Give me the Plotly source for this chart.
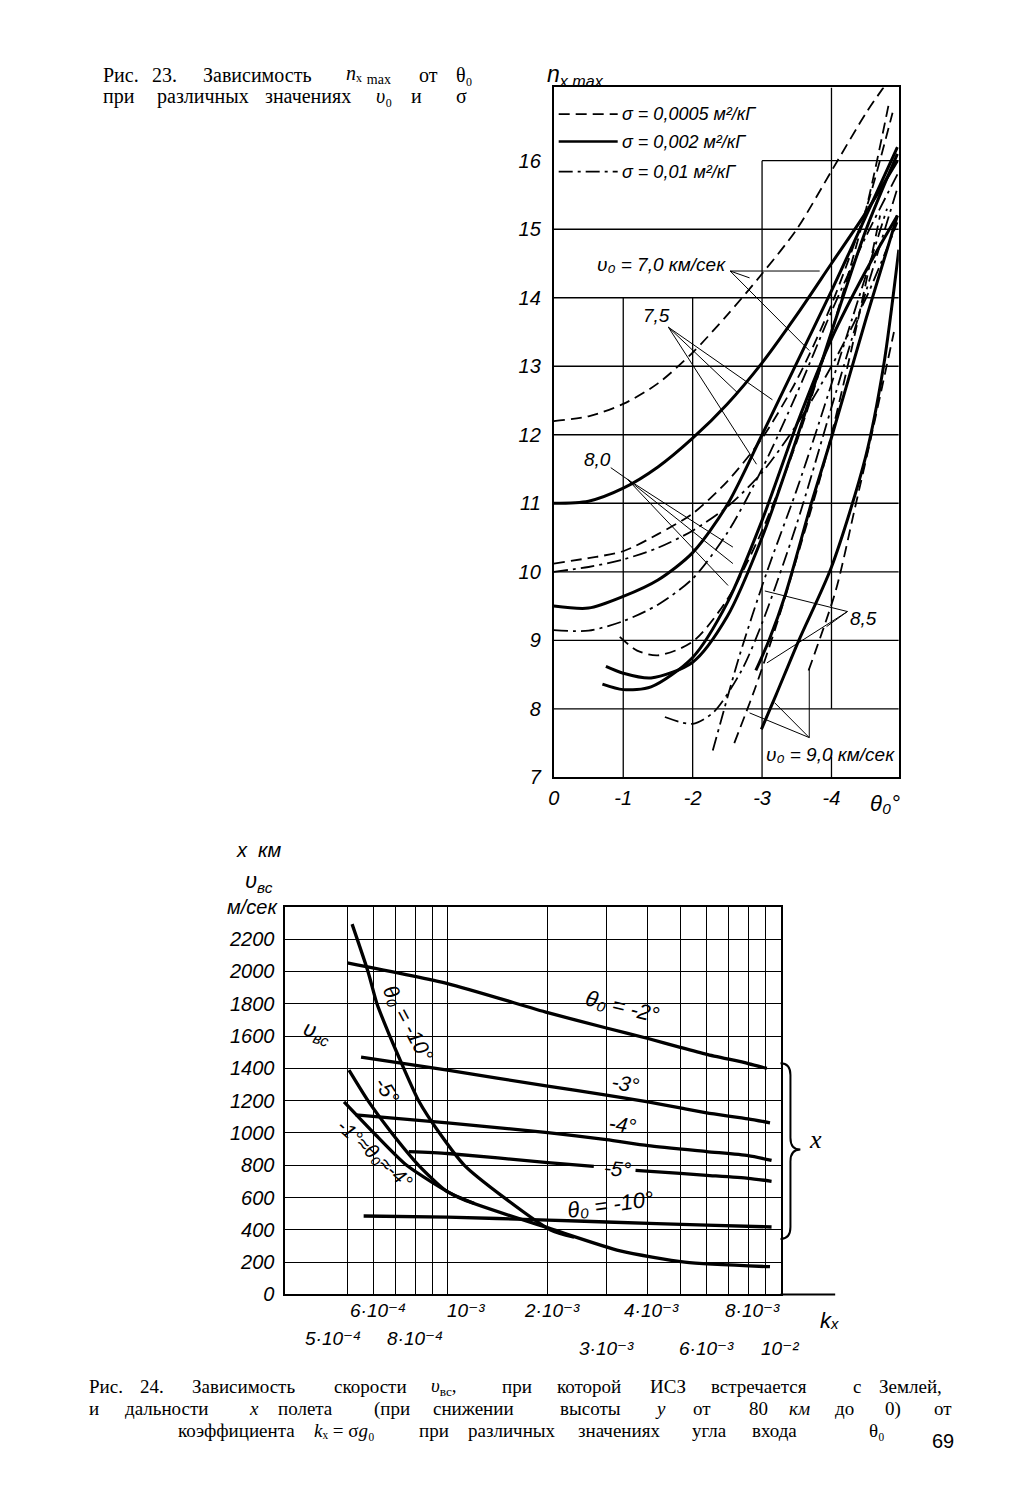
import numpy as np
import plotly.graph_objects as go

W, H = 1028, 1500

# ---------------- Fig. 23: n_x max vs theta0 ----------------
# v0 = 7.0 km/s
th_70_dash = [0, -0.5, -1, -1.5, -2, -2.5, -3, -3.5, -4, -4.5, -4.75]
n_70_dash = [12.2, 12.27, 12.45, 12.75, 13.2, 13.75, 14.35, 15.0, 15.85, 16.7, 17.07]
th_70_solid = [0, -0.5, -1, -1.5, -2, -2.5, -3, -3.5, -4, -4.5, -4.95]
n_70_solid = [11.0, 11.03, 11.22, 11.53, 11.95, 12.45, 13.05, 13.75, 14.5, 15.25, 16.0]
th_70_dashdot = [0, -0.5, -1, -1.5, -2, -2.5, -3, -3.5, -4, -4.5, -4.95]
n_70_dashdot = [10.0, 10.07, 10.18, 10.35, 10.6, 10.95, 11.45, 12.15, 13.0, 14.0, 15.1]
# v0 = 7.5 km/s
th_75_dash = [0, -0.5, -1, -1.5, -2, -2.5, -3, -3.5, -4, -4.5, -4.88]
n_75_dash = [10.12, 10.2, 10.3, 10.55, 10.85, 11.32, 11.95, 12.8, 13.9, 15.3, 16.7]
th_75_solid = [0, -0.5, -1, -1.5, -2, -2.5, -3, -3.5, -4, -4.5, -4.95]
n_75_solid = [9.5, 9.47, 9.64, 9.88, 10.28, 10.98, 12.0, 13.05, 14.1, 15.2, 16.2]
th_75_dashdot = [0, -0.5, -1, -1.5, -2, -2.5, -3, -3.5, -4, -4.5, -4.95]
n_75_dashdot = [9.15, 9.14, 9.28, 9.52, 9.9, 10.57, 11.5, 12.6, 13.8, 14.9, 15.8]
# v0 = 8.0 km/s
th_80_dash = [-0.95, -1.2, -1.5, -2, -2.5, -3, -3.5, -4, -4.5, -4.82]
n_80_dash = [9.05, 8.85, 8.78, 8.98, 9.6, 10.6, 11.9, 13.5, 15.3, 16.8]
th_80_solid = [-0.75, -1, -1.4, -2, -2.5, -3, -3.5, -4, -4.5, -4.95]
n_80_solid = [8.62, 8.52, 8.45, 8.68, 9.35, 10.5, 11.95, 13.5, 15.0, 16.1]
th_80_solid2 = [-0.7, -1, -1.4, -2, -2.5, -3, -3.5, -4, -4.5, -4.95]
n_80_solid2 = [8.36, 8.28, 8.32, 8.75, 9.55, 10.75, 12.15, 13.4, 14.4, 15.2]
th_80_dashdot = [-1.6, -2, -2.3, -2.7, -3, -3.5, -4, -4.5, -4.95]
n_80_dashdot = [7.88, 7.78, 7.95, 8.55, 9.25, 10.7, 12.4, 14.1, 15.6]
# v0 = 8.5 km/s
th_85_solid = [-2.91, -3.1, -3.34, -3.71, -4, -4.5, -4.95]
n_85_solid = [8.56, 9.0, 9.68, 11.0, 11.96, 13.7, 15.2]
th_85_dashdot = [-2.29, -2.67, -3.06, -3.49, -3.81, -4.3, -4.8]
n_85_dashdot = [7.39, 8.76, 9.97, 11.17, 12.14, 13.7, 15.3]
th_85_dash = [-3.67, -4.06, -4.34, -4.57, -4.9]
n_85_dash = [8.56, 9.72, 10.94, 11.96, 13.5]
# v0 = 9.0 km/s
th_90_solid = [-2.99, -3.2, -3.53, -4, -4.49, -4.75, -4.97]
n_90_solid = [7.7, 8.2, 9.0, 10.07, 11.67, 13.0, 14.7]
th_90_dash = [-2.6, -2.9, -3.2, -3.5, -3.9, -4.3, -4.7]
n_90_dash = [7.5, 8.3, 9.2, 10.2, 11.6, 13.3, 15.2]

theta_ticks = [0, -1, -2, -3, -4]
theta_tick_text = ['0', '-1', '-2', '-3', '-4']
n_ticks = [7, 8, 9, 10, 11, 12, 13, 14, 15, 16]

legend_text = ['σ = 0,0005 м²/кГ', 'σ = 0,002 м²/кГ', 'σ = 0,01 м²/кГ']
legend_style = ['dash', 'solid', 'dashdot']
legend_n = [16.68, 16.28, 15.84]

# leaders: label text, label position, leader origin, leader targets
v0_labels = ['υ₀ = 7,0 км/сек', '7,5', '8,0', '8,5', 'υ₀ = 9,0 км/сек']
v0_label_pos = [(-1.55, 14.49), (-1.48, 13.74), (-0.63, 11.64), (-4.46, 9.32), (-3.98, 7.33)]
v0_leader_origin = [(-2.54, 14.39), (-1.65, 13.57), (-1.06, 11.35), (-4.23, 9.42), (-3.68, 7.58)]
v0_leader_targets = [
    [(-2.82, 14.29), (-3.83, 14.39), (-3.68, 13.23)],
    [(-2.64, 12.62), (-3.15, 12.51), (-2.92, 11.57)],
    [(-2.58, 10.36), (-2.58, 10.12), (-2.51, 9.8), (-0.82, 11.52)],
    [(-3.04, 9.72), (-3.93, 9.2), (-3.07, 8.67)],
    [(-2.82, 7.94), (-3.18, 8.09), (-3.68, 8.59)],
]

# ---------------- Fig. 24: v_bc and x vs k_x ----------------
kx_x_m2 = [5.0e-4, 1e-3, 2e-3, 3e-3, 4e-3, 5e-3, 6e-3, 8e-3, 9.1e-3]
x_m2 = [2053, 1925, 1745, 1650, 1585, 1530, 1487, 1430, 1400]
kx_x_m3 = [5.5e-4, 1e-3, 2e-3, 3e-3, 4e-3, 5e-3, 6e-3, 8e-3, 9.3e-3]
x_m3 = [1470, 1389, 1290, 1235, 1192, 1155, 1124, 1088, 1063]
kx_x_m4 = [5.3e-4, 1e-3, 2e-3, 3e-3, 4e-3, 6e-3, 8e-3, 9.4e-3]
x_m4 = [1112, 1063, 1002, 959, 922, 885, 860, 830]
kx_x_m5a = [7.65e-4, 1e-3, 2e-3, 2.75e-3]
x_m5a = [885, 873, 817, 793]
kx_x_m5b = [3.67e-3, 5e-3, 6e-3, 8e-3, 9.4e-3]
x_m5b = [768, 750, 738, 719, 701]
kx_x_m10 = [5.6e-4, 1e-3, 2e-3, 3e-3, 6e-3, 9.4e-3]
x_m10 = [486, 479, 461, 449, 430, 418]

kx_v_m10 = [5.17e-4, 5.77e-4, 6.14e-4, 6.71e-4, 7.39e-4, 8.19e-4, 9.46e-4, 1.124e-3, 1.48e-3, 2.04e-3, 2.4e-3]
v_m10 = [2293, 2000, 1800, 1600, 1400, 1200, 1000, 800, 600, 400, 355]
kx_v_m5 = [5.06e-4, 5.77e-4, 6.8e-4, 8.19e-4, 9.93e-4, 1.2e-3]
v_m5 = [1389, 1200, 1000, 800, 640, 565]
kx_v_m14 = [4.89e-4, 6.01e-4, 7.54e-4, 1.08e-3, 2.09e-3, 3.3e-3, 5.16e-3, 9.3e-3]
v_m14 = [1193, 1000, 800, 600, 400, 270, 200, 172]

kx_grid = [5e-4, 6e-4, 7e-4, 8e-4, 9e-4, 1e-3, 2e-3, 3e-3, 4e-3, 5e-3, 6e-3, 7e-3, 8e-3, 9e-3]
v_ticks = [0, 200, 400, 600, 800, 1000, 1200, 1400, 1600, 1800, 2000, 2200]
kx_row1 = [6e-4, 1e-3, 2e-3, 4e-3, 8e-3]
kx_row1_text = ['6·10⁻⁴', '10⁻³', '2·10⁻³', '4·10⁻³', '8·10⁻³']
kx_row2 = [5e-4, 8e-4, 3e-3, 6e-3, 1e-2]
kx_row2_text = ['5·10⁻⁴', '8·10⁻⁴', '3·10⁻³', '6·10⁻³', '10⁻²']

CF = 'Liberation Sans Narrow, Liberation Sans, DejaVu Sans, sans-serif'
SERIF = 'Liberation Serif, DejaVu Serif, serif'
tick_font = dict(family=CF, size=20, color='black', style='italic')

styles = {
    'dash': dict(color='black', width=1.8, dash='11px,6px'),
    'solid': dict(color='black', width=3.0),
    'dashdot': dict(color='black', width=1.8, dash='14px,5px,3px,5px'),
}

fig = go.Figure()

curves23 = [
    (th_70_dash, n_70_dash, 'dash'), (th_70_solid, n_70_solid, 'solid'),
    (th_70_dashdot, n_70_dashdot, 'dashdot'),
    (th_75_dash, n_75_dash, 'dash'), (th_75_solid, n_75_solid, 'solid'),
    (th_75_dashdot, n_75_dashdot, 'dashdot'),
    (th_80_dash, n_80_dash, 'dash'), (th_80_solid, n_80_solid, 'solid'),
    (th_80_solid2, n_80_solid2, 'solid'), (th_80_dashdot, n_80_dashdot, 'dashdot'),
    (th_85_solid, n_85_solid, 'solid'), (th_85_dashdot, n_85_dashdot, 'dashdot'),
    (th_85_dash, n_85_dash, 'dash'),
    (th_90_solid, n_90_solid, 'solid'), (th_90_dash, n_90_dash, 'dash'),
]
for th, n, st in curves23:
    fig.add_trace(go.Scatter(
        x=th, y=n, mode='lines', xaxis='x', yaxis='y',
        line=dict(**styles[st], shape='spline', smoothing=0.8),
        hoverinfo='skip'
    ))

curves24 = [
    (kx_x_m2, x_m2), (kx_x_m3, x_m3), (kx_x_m4, x_m4), (kx_x_m5a, x_m5a),
    (kx_x_m5b, x_m5b), (kx_x_m10, x_m10),
    (kx_v_m10, v_m10), (kx_v_m5, v_m5), (kx_v_m14, v_m14),
]
for k, v in curves24:
    fig.add_trace(go.Scatter(
        x=k, y=v, mode='lines', xaxis='x2', yaxis='y2',
        line=dict(color='black', width=3.3, shape='spline', smoothing=0.6),
        hoverinfo='skip'
    ))

fig.update_layout(
    width=W, height=H,
    margin=dict(l=0, r=0, t=0, b=0),
    paper_bgcolor='white', plot_bgcolor='white',
    showlegend=False,
    xaxis=dict(
        domain=[543 / W, 890 / W], range=[0, -4.97], anchor='y',
        showgrid=False, zeroline=False, showline=True, mirror=True,
        linecolor='black', linewidth=2, ticks='',
        tickvals=theta_ticks, ticktext=theta_tick_text, tickfont=tick_font,
        ticklabelstandoff=2
    ),
    yaxis=dict(
        domain=[1 - 775 / H, 1 - 80 / H], range=[7, 17.07], anchor='x',
        showgrid=False, zeroline=False, showline=True, mirror=True,
        linecolor='black', linewidth=2, ticks='',
        tickvals=n_ticks, tickfont=tick_font, ticklabelstandoff=7
    ),
    xaxis2=dict(
        type='log', domain=[273 / W, 771 / W], range=[np.log10(3.26e-4), -2],
        anchor='y2', showgrid=True, gridcolor='black', gridwidth=1.2,
        zeroline=False, showline=True, mirror=True, linecolor='black',
        linewidth=2, ticks='', tickvals=kx_grid, showticklabels=False
    ),
    yaxis2=dict(
        domain=[1 - 1296 / H, 1 - 906 / H], range=[0, 2397], anchor='x2',
        showgrid=True, gridcolor='black', gridwidth=1.2, zeroline=False,
        showline=True, mirror=True, linecolor='black', linewidth=2, ticks='',
        tickvals=v_ticks, tickfont=tick_font, ticklabelstandoff=5
    ),
)

# partial grid of Fig. 23
grid_line = dict(color='black', width=1.3)
for n in [8, 9, 10, 11, 12, 13, 14, 15]:
    fig.add_shape(type='line', xref='x', yref='y', x0=0, x1=-4.97, y0=n, y1=n, line=grid_line)
fig.add_shape(type='line', xref='x', yref='y', x0=-3, x1=-4.97, y0=16, y1=16, line=grid_line)
for th, top in [(-1, 14), (-2, 14), (-3, 16)]:
    fig.add_shape(type='line', xref='x', yref='y', x0=th, x1=th, y0=7, y1=top, line=grid_line)
fig.add_shape(type='line', xref='x', yref='y', x0=-4, x1=-4, y0=8, y1=17.07, line=grid_line)
fig.add_shape(type='line', xref='x', yref='y', x0=-4, x1=-4, y0=7, y1=7.3, line=grid_line)

# legend of Fig. 23
for txt, st, n in zip(legend_text, legend_style, legend_n):
    fig.add_shape(type='line', xref='x', yref='y', x0=-0.07, x1=-0.92, y0=n, y1=n,
                  line=styles[st] if st != 'solid' else dict(color='black', width=2.4))
    fig.add_annotation(text=txt, x=-0.96, y=n, xref='x', yref='y', showarrow=False,
                       xanchor='left', yanchor='middle',
                       font=dict(family=CF, size=18, color='black', style='italic'))


def label(text, x, y, xref, yref, size=20, angle=0, anchor='center', family=CF):
    fig.add_annotation(text=text, x=x, y=y, xref=xref, yref=yref, showarrow=False,
                       textangle=angle, xanchor=anchor, yanchor='middle',
                       font=dict(family=family, size=size, color='black', style='italic'))


def leader(x0, y0, x1, y1, xref, yref):
    fig.add_shape(type='line', xref=xref, yref=yref, x0=x0, y0=y0, x1=x1, y1=y1,
                  line=dict(color='black', width=1))


for txt, pos, org, targets in zip(v0_labels, v0_label_pos, v0_leader_origin, v0_leader_targets):
    label(txt, pos[0], pos[1], 'x', 'y', size=19)
    for t in targets:
        leader(org[0], org[1], t[0], t[1], 'x', 'y')

# axis titles of Fig. 23
label('n<sub>x max</sub>', 565 / W, 1 - 68 / H, 'paper', 'paper', size=23)
label('θ₀°', 876 / W, 1 - 801 / H, 'paper', 'paper', size=22)

# labels of Fig. 24 (x in log10 units)
lg = np.log10
label('θ₀ = -2°', lg(3.35e-3), 1782, 'x2', 'y2', size=22, angle=14)
label('-3°', lg(3.42e-3), 1309, 'x2', 'y2', size=21, angle=10)
label('-4°', lg(3.35e-3), 1051, 'x2', 'y2', size=21, angle=8)
label('-5°', lg(3.24e-3), 781, 'x2', 'y2', size=21, angle=5)
label('θ₀ = -10°', lg(3.09e-3), 559, 'x2', 'y2', size=22, angle=-8)
label('θ₀ = -10°', lg(7.65e-4), 1680, 'x2', 'y2', size=21, angle=62)
label('-5°', lg(6.6e-4), 1265, 'x2', 'y2', size=21, angle=58)
label('-1°≈θ₀≈-4°', lg(6.05e-4), 867, 'x2', 'y2', size=20, angle=42)
label('υ<sub>вс</sub>', lg(4.07e-4), 1617, 'x2', 'y2', size=22, angle=18)
leader(lg(4.15e-4), 1740, lg(5.9e-4), 1960, 'x2', 'y2')
leader(lg(4.05e-4), 1480, lg(4.89e-4), 1193, 'x2', 'y2')
leader(lg(4.4e-4), 1470, lg(5.06e-4), 1389, 'x2', 'y2')

# x tick labels of Fig. 24, two rows
for k, txt in zip(kx_row1, kx_row1_text):
    shift = 18 if k == 1e-3 else 4
    fig.add_annotation(text=txt, x=lg(k), y=1 - 1312 / H, xref='x2', yref='paper',
                       showarrow=False, xshift=shift, yanchor='middle',
                       font=dict(family=CF, size=19, color='black', style='italic'))
for k, txt in zip(kx_row2, kx_row2_text):
    yy = 1340 if k < 1e-3 else 1350
    fig.add_annotation(text=txt, x=lg(k), y=1 - yy / H, xref='x2', yref='paper',
                       showarrow=False, xshift=-14 if k == 5e-4 else 0, yanchor='middle',
                       font=dict(family=CF, size=19, color='black', style='italic'))
    fig.add_shape(type='line', xref='x2', yref='paper', x0=lg(k), x1=lg(k),
                  y0=1 - 1296 / H, y1=1 - 1328 / H, line=dict(color='black', width=1.2))

# axis extension, brace, titles of Fig. 24
fig.add_shape(type='line', xref='paper', yref='paper', x0=771 / W, x1=826 / W,
              y0=1 - 1296 / H, y1=1 - 1296 / H, line=dict(color='black', width=2))


def P(x, y):
    return f'{x / W:.5f},{1 - y / H:.5f}'


brace = (f'M {P(771, 1063)} Q {P(781, 1063)} {P(781, 1075)} L {P(781, 1138)} '
         f'Q {P(781, 1150)} {P(791, 1150)} Q {P(781, 1150)} {P(781, 1162)} '
         f'L {P(781, 1228)} Q {P(781, 1240)} {P(771, 1240)}')
fig.add_shape(type='path', xref='paper', yref='paper', path=brace,
              line=dict(color='black', width=2))
label('x', 806 / W, 1 - 1140 / H, 'paper', 'paper', size=26, family=SERIF)
label('kₓ', 820 / W, 1 - 1322 / H, 'paper', 'paper', size=22)
label('x  км', 246 / W, 1 - 848 / H, 'paper', 'paper', size=20)
label('υ<sub>вс</sub>', 246 / W, 1 - 880 / H, 'paper', 'paper', size=22)
label('м/сек', 240 / W, 1 - 906 / H, 'paper', 'paper', size=20)

# captions
cap23 = [
    (67, [('Рис.', 88), ('23.', 137), ('Зависимость', 188), ('<i>n</i>ₓ <sub>max</sub>', 332),
          ('от', 405), ('θ₀', 443)]),
    (89, [('при', 88), ('различных', 142), ('значениях', 250), ('<i>υ</i>₀', 362),
          ('и', 397), ('σ', 443)]),
]
cap24 = [
    (1389, [('Рис.', 73), ('24.', 125), ('Зависимость', 177), ('скорости', 320),
            ('<i>υ</i><sub>вс</sub>,', 417), ('при', 489), ('которой', 544), ('ИСЗ', 638),
            ('встречается', 699), ('с', 842), ('Землей,', 868)]),
    (1411, [('и', 73), ('дальности', 110), ('<i>x</i>', 234), ('полета', 264), ('(при', 360),
            ('снижении', 419), ('высоты', 547), ('<i>y</i>', 643), ('от', 681), ('80', 737),
            ('<i>км</i>', 778), ('до', 824), ('0)', 874), ('от', 923)]),
    (1433, [('коэффициента', 163), ('<i>k</i>ₓ = σ<i>g</i>₀', 300),
            ('при', 405), ('различных', 455), ('значениях', 565), ('угла', 680),
            ('входа', 740), ('θ₀', 858)]),
]
for lines, size in [(cap23, 20), (cap24, 19)]:
    for y, words in lines:
        for txt, x in words:
            fig.add_annotation(text=txt, x=x / W, y=1 - y / H, xref='paper', yref='paper',
                               showarrow=False, xanchor='left', yanchor='middle',
                               font=dict(family=SERIF, size=size, color='black'))
fig.add_annotation(text='69', x=948 / W, y=1 - 1457 / H, xref='paper', yref='paper',
                   showarrow=False, font=dict(family='Liberation Sans, sans-serif', size=20, color='black'))

fig.write_html("out.html")
